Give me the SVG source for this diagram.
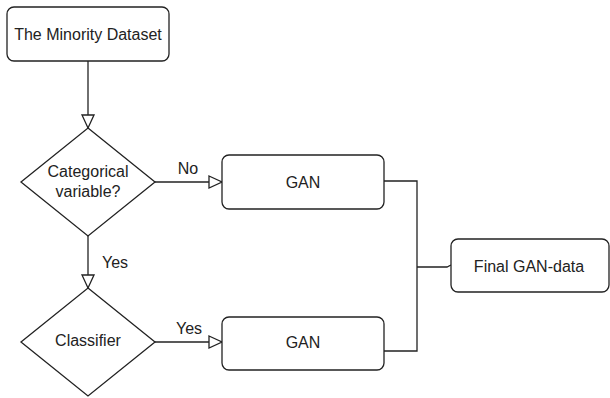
<svg xmlns="http://www.w3.org/2000/svg" width="610" height="398" viewBox="0 0 610 398">
<style>
.box{fill:#fff;stroke:#222;stroke-width:1.3}
.ln{fill:none;stroke:#222;stroke-width:1.3}
text{font-family:"Liberation Sans",Arial,sans-serif;font-size:16px;fill:#222;text-anchor:middle;dominant-baseline:central}
</style>
<defs>
<marker id="arr" markerUnits="userSpaceOnUse" markerWidth="16" markerHeight="16" refX="14" refY="7" orient="auto" viewBox="0 0 16 14">
<path d="M1,1 L14,7 L1,13 Z" fill="#fff" stroke="#222" stroke-width="1.3"/>
</marker>
</defs>
<rect width="610" height="398" fill="#fff"/>
<g id="connectors">
<path class="ln" d="M88,61 V128" marker-end="url(#arr)"/>
<path class="ln" d="M155,182 H222" marker-end="url(#arr)"/>
<path class="ln" d="M88,236 V288" marker-end="url(#arr)"/>
<path class="ln" d="M155,342 H222" marker-end="url(#arr)"/>
<path class="ln" d="M384,181 H417 V351 H384"/>
<path class="ln" d="M417,267 H447 L451,265"/>
<text x="188" y="168">No</text>
<text x="115" y="262">Yes</text>
<text x="189" y="328">Yes</text>
</g>
<g id="minority"><rect class="box" x="7" y="7" width="162" height="54" rx="7"/><text x="88" y="34">The Minority Dataset</text></g>
<g id="categorical"><path class="box" d="M88,128 L155,182 L88,236 L21,182 Z"/><text x="88" y="171">Categorical</text><text x="88" y="191">variable?</text></g>
<g id="classifier"><path class="box" d="M88,288 L155,342 L88,396 L21,342 Z"/><text x="88" y="340">Classifier</text></g>
<g id="gan1"><rect class="box" x="222" y="155" width="162" height="54" rx="7"/><text x="303" y="182">GAN</text></g>
<g id="gan2"><rect class="box" x="222" y="317" width="162" height="53" rx="7"/><text x="303" y="342">GAN</text></g>
<g id="final"><rect class="box" x="451" y="239" width="158" height="53" rx="7"/><text x="529" y="266">Final GAN-data</text></g>
</svg>
